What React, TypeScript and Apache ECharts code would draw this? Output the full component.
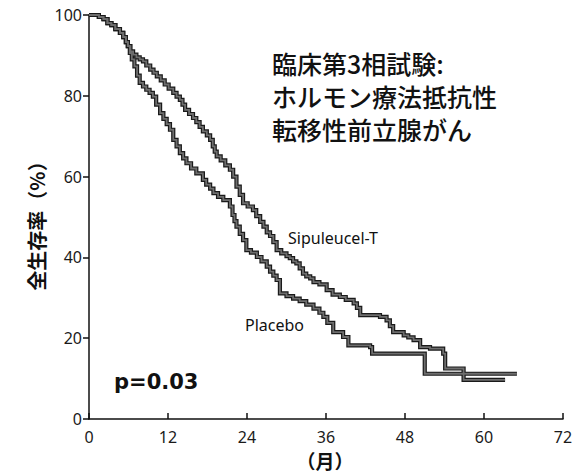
import React, { useEffect, useRef } from "react";
import * as echarts from "echarts";

const xTicks = [0, 12, 24, 36, 48, 60, 72];
const yTicks = [0, 20, 40, 60, 80, 100];

const sipMonths = [
  0, 1.5, 2.2, 2.8, 3.4, 4.0, 4.7, 5.2, 5.6, 5.9, 6.3, 6.7, 7.2, 7.7, 8.2, 8.7, 9.3, 9.8, 10.3, 10.9,
  11.5, 12.1, 12.8, 13.3, 13.8, 14.2, 14.6, 15.2, 15.8, 16.3, 16.8, 17.3, 17.9, 18.4, 18.8, 19.1,
  19.4, 20.0, 20.7, 21.4, 21.9, 22.4, 22.9, 23.4, 24.1, 24.9, 25.4, 26.0, 26.5, 27.0, 27.5, 28.0,
  28.5, 29.2, 30.0, 30.5, 31.0, 31.5, 32.0, 32.5, 33.0, 33.6, 34.1, 35.0, 36.1, 37.0, 38.1, 39.0,
  40.2, 40.7, 41.2, 44.2, 45.2, 45.7, 46.2, 47.8, 48.5, 49.3, 50.3, 51.8, 53.8, 54.1, 56.9, 63.2,
];
const sipSurvival = [
  100, 99.5, 99, 98, 97.5, 96.5, 95.6, 94.5, 93.3, 92.3, 91, 90.2, 89.5, 89, 88.5, 87.5, 86.5, 85.7,
  84.8, 83.8, 82.8, 81.8, 80.7, 79.8, 79.0, 77.8, 76.5, 75.5, 74.5, 73.5, 72.3, 71.2, 70.2, 69.1,
  67.5, 66.2, 65.0, 64.0, 62.8, 61.7, 60.0, 57.5, 55.5, 53.4, 52.6, 51.7, 50.2, 48.8, 47.6, 46.2,
  45.3, 43.8, 41.8, 41.0, 40.3, 39.8, 39.0, 38.5, 37.3, 36.0, 35.3, 34.8, 33.9, 33.3, 31.9, 30.8,
  30.2, 29.5, 28.6, 27.5, 25.7, 25.3, 24.4, 23.0, 21.5, 20.7, 20.2, 19.5, 17.8, 17.4, 16.2, 12.5,
  9.7, 9.7,
];

const placeboMonths = [
  0, 1.5, 2.2, 2.8, 3.4, 4.0, 4.7, 5.2, 5.6, 5.9, 6.2, 6.5, 6.9, 7.3, 7.7, 8.2, 8.7, 9.2, 9.7, 10.2,
  10.8, 11.3, 11.8, 12.3, 12.8, 13.3, 13.8, 14.3, 14.8, 15.5, 16.3, 17.3, 17.8, 18.4, 18.9, 19.6,
  20.4, 21.4, 21.8, 22.1, 22.4, 22.9, 23.4, 23.9, 24.6, 25.5, 26.2, 27.0, 27.5, 28.0, 28.5, 29.0,
  30.0, 31.0, 32.0, 33.0, 34.1, 35.0, 35.6, 36.2, 37.1, 38.6, 39.4, 42.7, 43.0, 51.0, 65.0,
];
const placeboSurvival = [
  100, 99.5, 99, 98, 97.5, 96.5, 95.6, 94.5, 93.3, 92.3, 90.6, 89, 87.3, 85, 83.2, 82.3, 81.5, 80.7,
  79.8, 77.8, 75.7, 74.3, 73, 71.6, 69.1, 67.5, 65.8, 64.5, 63.3, 62, 60.8, 59.2, 58, 57, 55.9, 55,
  54.2, 52.6, 50.5, 49, 47.6, 45.8, 44.3, 41.8, 41.2, 40.1, 39, 37.7, 36.5, 35.5, 34.4, 31.1, 30.4,
  29.8, 29.2, 28.3, 27.3, 26.3, 25.3, 23.8, 21.5, 20.3, 18.2, 17.8, 16.2, 11.2, 11.2,
];

const titleLines = ["臨床第3相試験:", "ホルモン療法抵抗性", "転移性前立腺がん"];
const yAxisTitle = "全生存率（%）";
const xAxisTitle = "（月）";
const seriesNames = ["Sipuleucel-T", "Placebo"];
const pValueText = "p=0.03";

function pairs(xs: number[], ys: number[]) {
  return xs.map((x, i) => [x, ys[i]]);
}

export default function App() {
  const ref = useRef<HTMLDivElement>(null);
  useEffect(() => {
    document.body.style.margin = "0";
    if (!ref.current) return;
    const chart = echarts.init(ref.current, null, { renderer: "svg" });
    const tickFont = { fontFamily: "Noto Sans", fontSize: 16, color: "#1a1a1a" };
    const curve = (name: string, data: number[][], color: string, width: number, z: number) => ({
      name,
      type: "line",
      step: "end",
      data,
      symbol: "none",
      z,
      lineStyle: { color, width, join: "miter" },
      silent: true,
    });
    const sip = pairs(sipMonths, sipSurvival);
    const pla = pairs(placeboMonths, placeboSurvival);
    chart.setOption({
      animation: false,
      backgroundColor: "#ffffff",
      grid: { left: 89, right: 24, top: 15, bottom: 55, containLabel: false },
      xAxis: {
        type: "value",
        min: 0,
        max: 72,
        interval: 12,
        axisLine: { show: true, lineStyle: { color: "#111", width: 1.5 } },
        axisTick: { show: true, inside: true, length: 6, lineStyle: { color: "#111", width: 1.5 } },
        axisLabel: { ...tickFont, margin: 10, formatter: (v: number) => (xTicks.includes(v) ? String(v) : "") },
        splitLine: { show: false },
      },
      yAxis: {
        type: "value",
        min: 0,
        max: 100,
        interval: 20,
        axisLine: { show: true, lineStyle: { color: "#111", width: 1.5 } },
        axisTick: { show: true, inside: false, length: 6, lineStyle: { color: "#111", width: 1.5 } },
        axisLabel: { ...tickFont, margin: 7, formatter: (v: number) => (yTicks.includes(v) ? String(v) : "") },
        splitLine: { show: false },
      },
      series: [
        curve(seriesNames[0], sip, "#1a1a1a", 4.2, 2),
        curve(seriesNames[0] + " ", sip, "#6e6e6e", 1.8, 3),
        curve(seriesNames[1], pla, "#1a1a1a", 4.2, 2),
        curve(seriesNames[1] + " ", pla, "#6e6e6e", 1.8, 3),
      ],
      graphic: [
        ...titleLines.map((t, i) => ({
          type: "text",
          left: 272,
          top: 50 + i * 33,
          style: {
            text: t,
            fontFamily: "Noto Sans CJK JP",
            fontSize: 25,
            fontWeight: 500,
            fill: "#111",
          },
        })),
        {
          type: "text",
          x: 36,
          y: 221,
          rotation: Math.PI / 2,
          style: {
            text: yAxisTitle,
            fontFamily: "Noto Sans CJK JP",
            fontSize: 20,
            fontWeight: "bold",
            fill: "#111",
            align: "center",
            verticalAlign: "middle",
          },
        },
        {
          type: "text",
          x: 325,
          y: 460,
          style: {
            text: xAxisTitle,
            fontFamily: "Noto Sans CJK JP",
            fontSize: 19,
            fontWeight: "bold",
            fill: "#111",
            align: "center",
            verticalAlign: "middle",
          },
        },
        {
          type: "text",
          x: 288,
          y: 238,
          style: {
            text: seriesNames[0],
            fontFamily: "Noto Sans",
            fontSize: 16,
            fill: "#111",
            align: "left",
            verticalAlign: "middle",
          },
        },
        {
          type: "text",
          x: 245,
          y: 325,
          style: {
            text: seriesNames[1],
            fontFamily: "Noto Sans",
            fontSize: 16,
            fill: "#111",
            align: "left",
            verticalAlign: "middle",
          },
        },
        {
          type: "text",
          x: 114,
          y: 382,
          style: {
            text: pValueText,
            fontFamily: "DejaVu Sans",
            fontSize: 21,
            fontWeight: "bold",
            fill: "#111",
            align: "left",
            verticalAlign: "middle",
          },
        },
      ],
    });
    return () => chart.dispose();
  }, []);
  return <div ref={ref} style={{ width: 587, height: 474 }} />;
}
